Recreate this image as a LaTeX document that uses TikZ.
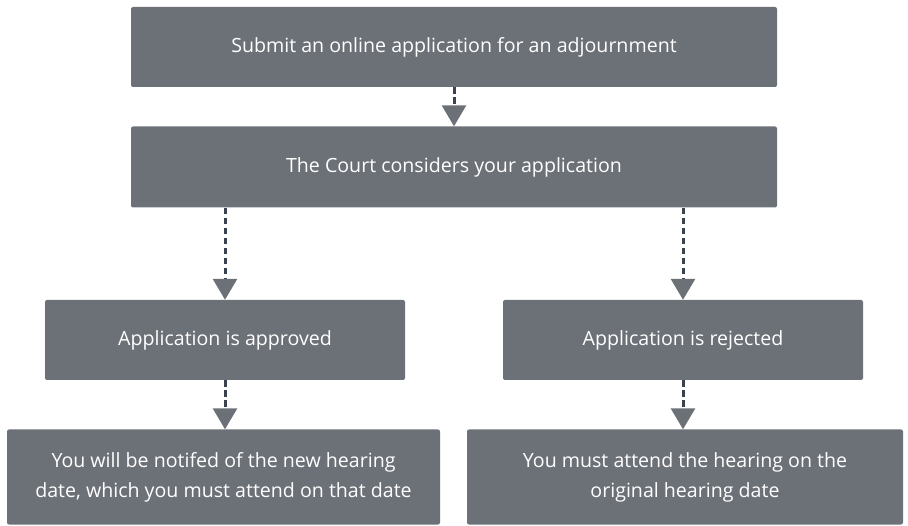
\documentclass[tikz,border=0pt]{standalone}
\usepackage{fontspec}
\setmainfont{Open Sans}
\usetikzlibrary{arrows.meta}
\definecolor{boxgray}{HTML}{6C7077}
\definecolor{linegray}{HTML}{3A424E}

\begin{document}
\begin{tikzpicture}[x=1pt,y=1pt,node distance=120pt,
        box/.style={fill=boxgray,text=white,rounded corners=2pt,align=center,
            font=\fontsize{19.6}{30}\selectfont,inner sep=0pt},
        flow/.style={linegray,line width=3pt,dash pattern=on 6.5pt off 3.5pt,
            -{Triangle[width=24pt,length=21pt,color=boxgray]}}]
        \useasboundingbox (0,0) rectangle (908,525);
        \node (submit) [box,minimum width=646pt,minimum height=80pt] at (454,478) {Submit an online application for an adjournment};
        \node (court) [box,minimum width=646pt,minimum height=81pt,below of=submit] {The Court considers your application};

        \node (approved) [box,minimum width=360pt,minimum height=80pt,below of=court,node distance=173pt,xshift=-229pt] {Application is approved};
        \node (rejected) [box,minimum width=360pt,minimum height=80pt,below of=court,node distance=173pt,xshift=229pt] {Application is rejected};

        \node (notified) [box,minimum width=433pt,minimum height=95pt,below of=approved,node distance=137pt,xshift=-1.5pt] {You will be notifed of the new hearing\\date, which you must attend on that date};
        \node (attend) [box,minimum width=436pt,minimum height=95pt,below of=rejected,node distance=137pt,xshift=2pt] {You must attend the hearing on the\\original hearing date};

        \draw[flow] (submit) -- (court);
        \draw[flow] (court.south -| approved.north) -- (approved.north);
        \draw[flow] (court.south -| rejected.north) -- (rejected.north);
        \draw[flow] (approved) -- (approved |- notified.north);
        \draw[flow] (rejected) -- (rejected |- attend.north);
\end{tikzpicture}
\end{document}
